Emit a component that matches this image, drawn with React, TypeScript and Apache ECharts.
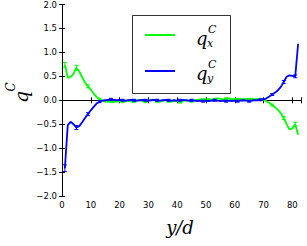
import React, { useEffect, useRef } from "react";
import * as echarts from "echarts";

const xValues = [1,2,3,4,5,6,7,8,9,10,11,12,13,14,15,16,17,18,19,20,21,22,23,24,25,26,27,28,29,30,31,32,33,34,35,36,37,38,39,40,41,42,43,44,45,46,47,48,49,50,51,52,53,54,55,56,57,58,59,60,61,62,63,64,65,66,67,68,69,70,71,72,73,74,75,76,77,78,79,80,81,82];

const qxValues = [0.74,0.47,0.49,0.55,0.68,0.60,0.48,0.37,0.29,0.22,0.14,0.07,0.02,-0.01,-0.03,-0.03,-0.02,-0.04,-0.03,-0.02,
  -0.03,-0.02,-0.01,-0.03,-0.02,-0.01,0.00,-0.02,-0.03,-0.01,0.01,0.00,-0.02,-0.03,-0.01,0.00,-0.02,-0.03,-0.01,-0.02,
  -0.04,-0.02,0.00,-0.01,-0.02,0.00,0.01,0.02,0.01,0.02,0.03,0.01,0.02,0.04,0.03,0.02,0.03,0.04,0.02,0.03,
  0.02,0.03,0.02,0.03,0.02,0.03,0.02,0.03,0.02,0.01,-0.02,-0.06,-0.10,-0.15,-0.20,-0.27,-0.37,-0.50,-0.61,-0.59,
  -0.50,-0.72];

const qyValues = [-1.42,-0.52,-0.45,-0.50,-0.57,-0.54,-0.46,-0.37,-0.29,-0.21,-0.14,-0.07,-0.03,-0.01,0.00,0.01,0.02,0.01,0.00,0.01,
  0.00,-0.01,0.00,0.01,0.00,-0.01,0.00,0.01,0.00,-0.01,0.00,0.01,0.00,-0.01,0.00,0.01,0.00,-0.01,0.00,-0.01,
  0.00,0.01,0.00,-0.01,0.00,-0.01,-0.02,-0.01,-0.02,-0.01,-0.02,-0.01,0.00,-0.01,-0.02,-0.01,-0.02,-0.01,-0.02,-0.01,
  -0.02,-0.01,0.00,-0.01,-0.02,-0.01,0.00,0.00,0.01,0.02,0.04,0.08,0.12,0.16,0.21,0.28,0.38,0.49,0.52,0.51,
  0.50,1.18];

// error bars drawn at every 4th sample (x = 1, 5, 9, ..., 81)
const errX = [1,5,9,13,17,21,25,29,33,37,41,45,49,53,57,61,65,69,73,77,81];
const qxErr = [0.05,0.05,0.03,0.02,0.02,0.02,0.02,0.02,0.02,0.02,0.02,0.02,0.02,0.02,0.02,0.02,0.02,0.02,0.02,0.03,0.04];
const qyErr = [0.07,0.04,0.03,0.02,0.02,0.02,0.02,0.02,0.02,0.02,0.02,0.02,0.02,0.02,0.02,0.02,0.02,0.02,0.02,0.03,0.03];

const xTicks = [0, 10, 20, 30, 40, 50, 60, 70, 80];
const yTickLabels = ["−2.0", "−1.5", "−1.0", "−0.5", "0.0", "0.5", "1.0", "1.5", "2.0"];

const GREEN = "#00ff00";
const BLUE = "#0000ff";

function errSeries(name: string, vals: number[], errs: number[], color: string) {
  const data = errX.map((x, i) => {
    const idx = xValues.indexOf(x);
    return [x, vals[idx], errs[i]];
  });
  return {
    type: "custom",
    name,
    data,
    z: 3,
    renderItem: (params: any, api: any) => {
      const x = api.value(0);
      const y = api.value(1);
      const e = api.value(2);
      const top = api.coord([x, y + e]);
      const bot = api.coord([x, y - e]);
      const cap = 2;
      const style = { stroke: color, lineWidth: 1 };
      return {
        type: "group",
        children: [
          { type: "line", shape: { x1: top[0], y1: top[1], x2: bot[0], y2: bot[1] }, style },
          { type: "line", shape: { x1: top[0] - cap, y1: top[1], x2: top[0] + cap, y2: top[1] }, style },
          { type: "line", shape: { x1: bot[0] - cap, y1: bot[1], x2: bot[0] + cap, y2: bot[1] }, style },
        ],
      };
    },
  };
}

function mathLabel(x: number, y: number, sub: string) {
  const font = "italic 18px 'DejaVu Serif', serif";
  return [
    { type: "text", x, y, z: 101, style: { text: "q", font, fill: "#000", textVerticalAlign: "middle" } },
    { type: "text", x: x + 12, y: y - 9, z: 101, style: { text: "C", font: "italic 11px 'DejaVu Serif', serif", fill: "#000", textVerticalAlign: "middle" } },
    { type: "text", x: x + 11, y: y + 5, z: 101, style: { text: sub, font: "italic 11px 'DejaVu Serif', serif", fill: "#000", textVerticalAlign: "middle" } },
  ];
}

export default function App() {
  const ref = useRef<HTMLDivElement>(null);
  useEffect(() => {
    if (!ref.current) return;
    const chart = echarts.init(ref.current, null, { renderer: "svg" });
    const labelFont = { fontFamily: "'DejaVu Sans', sans-serif", fontSize: 8.5, color: "#000" };
    const axisLine = { show: true, lineStyle: { color: "#000", width: 1 } };
    const tick = { show: true, inside: true, length: 3, lineStyle: { color: "#000", width: 1 } };
    chart.setOption({
      animation: false,
      backgroundColor: "#fff",
      grid: { left: 62, top: 4, right: 6, bottom: 50, containLabel: false },
      xAxis: [
        {
          type: "value", min: 0, max: 83, interval: 10, position: "bottom",
          axisLine, axisTick: tick, splitLine: { show: false },
          axisLabel: { ...labelFont, margin: 4, formatter: (v: number) => (xTicks.includes(v) ? String(v) : "") },
        },
        {
          type: "value", min: 0, max: 83, interval: 10, position: "top",
          axisLine, axisTick: tick, splitLine: { show: false }, axisLabel: { show: false },
        },
      ],
      yAxis: [
        {
          type: "value", min: -2, max: 2, interval: 0.5, position: "left",
          axisLine, axisTick: tick, splitLine: { show: false },
          axisLabel: { ...labelFont, margin: 5, formatter: (v: number) => yTickLabels[Math.round((v + 2) / 0.5)] ?? "" },
        },
        {
          type: "value", min: -2, max: 2, interval: 0.5, position: "right",
          axisLine, axisTick: tick, splitLine: { show: false }, axisLabel: { show: false },
        },
      ],
      series: [
        {
          type: "line", name: "qx", data: xValues.map((x, i) => [x, qxValues[i]]),
          showSymbol: false, lineStyle: { color: GREEN, width: 1.8 }, itemStyle: { color: GREEN }, z: 2,
        },
        errSeries("qxErr", qxValues, qxErr, GREEN),
        {
          type: "line", name: "qy", data: xValues.map((x, i) => [x, qyValues[i]]),
          showSymbol: false, lineStyle: { color: BLUE, width: 1.8 }, itemStyle: { color: BLUE }, z: 4,
        },
        errSeries("qyErr", qyValues, qyErr, BLUE),
      ],
      graphic: [
        { type: "rect", z: 100, shape: { x: 132.5, y: 15.5, width: 98, height: 78 }, style: { fill: "#fff", stroke: "#333", lineWidth: 1 } },
        { type: "line", z: 101, shape: { x1: 145, y1: 35, x2: 175, y2: 35 }, style: { stroke: GREEN, lineWidth: 2 } },
        { type: "line", z: 101, shape: { x1: 145, y1: 71, x2: 175, y2: 71 }, style: { stroke: BLUE, lineWidth: 2 } },
        ...mathLabel(196, 38, "x"),
        ...mathLabel(196, 73, "y"),
        {
          type: "group", x: 21, y: 97, rotation: Math.PI / 2, z: 101,
          children: [
            { type: "text", x: 0, y: 0, style: { text: "q", font: "italic 19px 'DejaVu Serif', serif", fill: "#000", textVerticalAlign: "middle", textAlign: "center" } },
            { type: "text", x: 10, y: -10, style: { text: "C", font: "italic 12px 'DejaVu Serif', serif", fill: "#000", textVerticalAlign: "middle", textAlign: "center" } },
          ],
        },
        { type: "text", x: 180, y: 227, z: 101, style: { text: "y/d", font: "italic 18px 'DejaVu Serif', serif", fill: "#000", textAlign: "center", textVerticalAlign: "middle" } },
      ],
    });
    return () => chart.dispose();
  }, []);
  return <div ref={ref} style={{ position: "fixed", left: 0, top: 0, width: 307, height: 246 }} />;
}
